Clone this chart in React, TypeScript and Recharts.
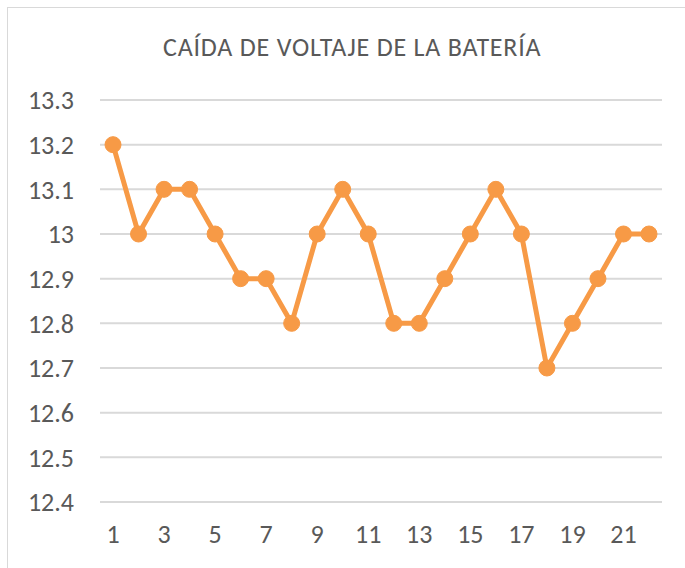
import React from 'react';
import { LineChart, Line, XAxis, YAxis, CartesianGrid } from 'recharts';

const readings = ['1', '2', '3', '4', '5', '6', '7', '8', '9', '10', '11', '12', '13', '14', '15', '16', '17', '18', '19', '20', '21', '22'];
const voltage = [13.2, 13.0, 13.1, 13.1, 13.0, 12.9, 12.9, 12.8, 13.0, 13.1, 13.0, 12.8, 12.8, 12.9, 13.0, 13.1, 13.0, 12.7, 12.8, 12.9, 13.0, 13.0];
const yTicks = [12.4, 12.5, 12.6, 12.7, 12.8, 12.9, 13.0, 13.1, 13.2, 13.3];

const chartData = readings.map((r, i) => ({ x: r, v: voltage[i] }));

const font = 'Carlito, Lato, "Open Sans", sans-serif';
const grey = '#595959';
const orange = '#F79A46';

const App: React.FC = () => {
  return (
    <div style={{ position: 'absolute', left: 0, top: 0, width: 685, height: 568, overflow: 'hidden', background: '#fff' }}>
      <div style={{ position: 'absolute', left: 7, top: 7, width: 720, height: 620, border: '1.5px solid #d9d9d9' }} />
      <div
        style={{
          position: 'absolute', left: 163, top: 30, whiteSpace: 'nowrap',
          fontFamily: font, fontSize: 26, letterSpacing: 0.8, color: grey, lineHeight: '34px',
        }}
      >
        CAÍDA DE VOLTAJE DE LA BATERÍA
      </div>
      <div style={{ position: 'absolute', left: 0, top: 0 }}>
        <LineChart width={685} height={568} data={chartData} margin={{ top: 100, right: 23, bottom: 0, left: 0 }}>
          <CartesianGrid vertical={false} stroke="#d9d9d9" strokeWidth={2} />
          <XAxis
            dataKey="x"
            interval={1}
            axisLine={false}
            tickLine={false}
            tickSize={0}
            tickMargin={23}
            padding={{ left: 13, right: 13 }}
            height={66}
            tick={{ fill: grey, fontSize: 26, fontFamily: font }}
          />
          <YAxis
            domain={[12.4, 13.3]}
            ticks={yTicks}
            width={100}
            axisLine={false}
            tickLine={false}
            tickSize={0}
            tickMargin={26}
            tickFormatter={(v: number) => String(v)}
            tick={{ fill: grey, fontSize: 26, fontFamily: font }}
          />
          <Line
            type="linear"
            dataKey="v"
            stroke={orange}
            strokeWidth={5}
            dot={{ r: 8, fill: orange, stroke: orange, strokeWidth: 1 }}
            activeDot={false}
            isAnimationActive={false}
          />
        </LineChart>
      </div>
    </div>
  );
};

export default App;
